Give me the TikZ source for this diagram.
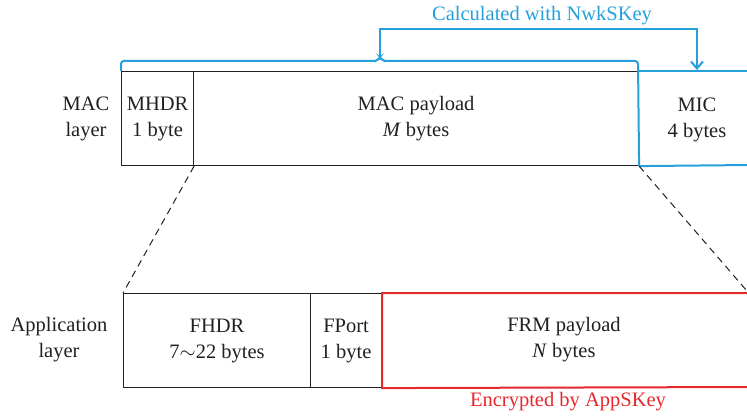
\documentclass[tikz,border=0pt]{standalone}
\usepackage{fontspec}
\setmainfont{Liberation Serif}
\usetikzlibrary{arrows.meta}
\definecolor{mblue}{RGB}{38,160,220}
\definecolor{mred}{RGB}{230,40,45}
\definecolor{ink}{RGB}{35,31,32}
\tikzset{
  cell/.style={draw=ink, line width=1.1pt, anchor=north west, inner sep=0pt, align=center, text=ink, font=\fontsize{20.5}{26}\selectfont},
  lbl/.style={align=center, text=ink, inner sep=0pt, font=\fontsize{20.5}{26}\selectfont},
  txt/.style={align=center, inner sep=0pt, font=\fontsize{20.5}{26}\selectfont},
  blueline/.style={draw=mblue, line width=2pt},
  redline/.style={draw=mred, line width=2pt},
  dashline/.style={draw=ink, line width=1pt, dash pattern=on 7pt off 5pt}
}
\begin{document}
\begin{tikzpicture}[x=1pt,y=-1pt]
\useasboundingbox (0,0) rectangle (747,417);
% MAC layer
\node[lbl] (maclbl) at (86,119) {MAC\\layer};
\node[cell, minimum width=72pt, minimum height=94pt] (mhdr) at (121,71) {MHDR\\1 byte};
\node[cell, minimum width=445pt, minimum height=94pt] (macp) at (193,71) {MAC payload\\\textit{M} bytes};
% MIC (open to the right)
\coordinate (mictr) at (750,71);
\coordinate (micbr) at (750,165);
\draw[blueline] (macp.south east) -- (micbr);
\draw[blueline] (macp.north east) -- (mictr);
\node[lbl] (mic) at (697,120) {MIC\\4 bytes};
% brace
\coordinate (tip) at (380,57);
\draw[blueline, rounded corners=3pt] (mhdr.north west) -- (121,61) -- (377,61) -- (tip) -- (383,61) -- (638,61) -- (macp.south east);
\coordinate (arrend) at (697,70);
\draw[blueline, -{Straight Barb[length=7pt,width=12pt]}] (tip) -- (380,29) -| (arrend);
\node[txt, text=mblue] (calc) at (542,16) {Calculated with NwkSKey};
% application layer
\node[lbl] (applbl) at (59,340) {Application\\layer};
\node[cell, minimum width=187pt, minimum height=94pt] (fhdr) at (123,293) {FHDR\\7$\sim$22 bytes};
\node[cell, minimum width=71pt, minimum height=94pt] (fport) at (310,293) {FPort\\1 byte};
\coordinate (frmtr) at (750,293);
\coordinate (frmbr) at (750,387);
\draw[redline] (frmtr) -- (fport.north east) -- (fport.south east) -- (frmbr);
\node[lbl] (frm) at (564,340) {FRM payload\\\textit{N} bytes};
\node[txt, text=mred] (enc) at (568,402) {Encrypted by AppSKey};
% dashed connectors
\coordinate (rend) at (747,291);
\draw[dashline] (mhdr.south east) -- (fhdr.north west);
\draw[dashline] (macp.south east) -- (rend);
\end{tikzpicture}
\end{document}
